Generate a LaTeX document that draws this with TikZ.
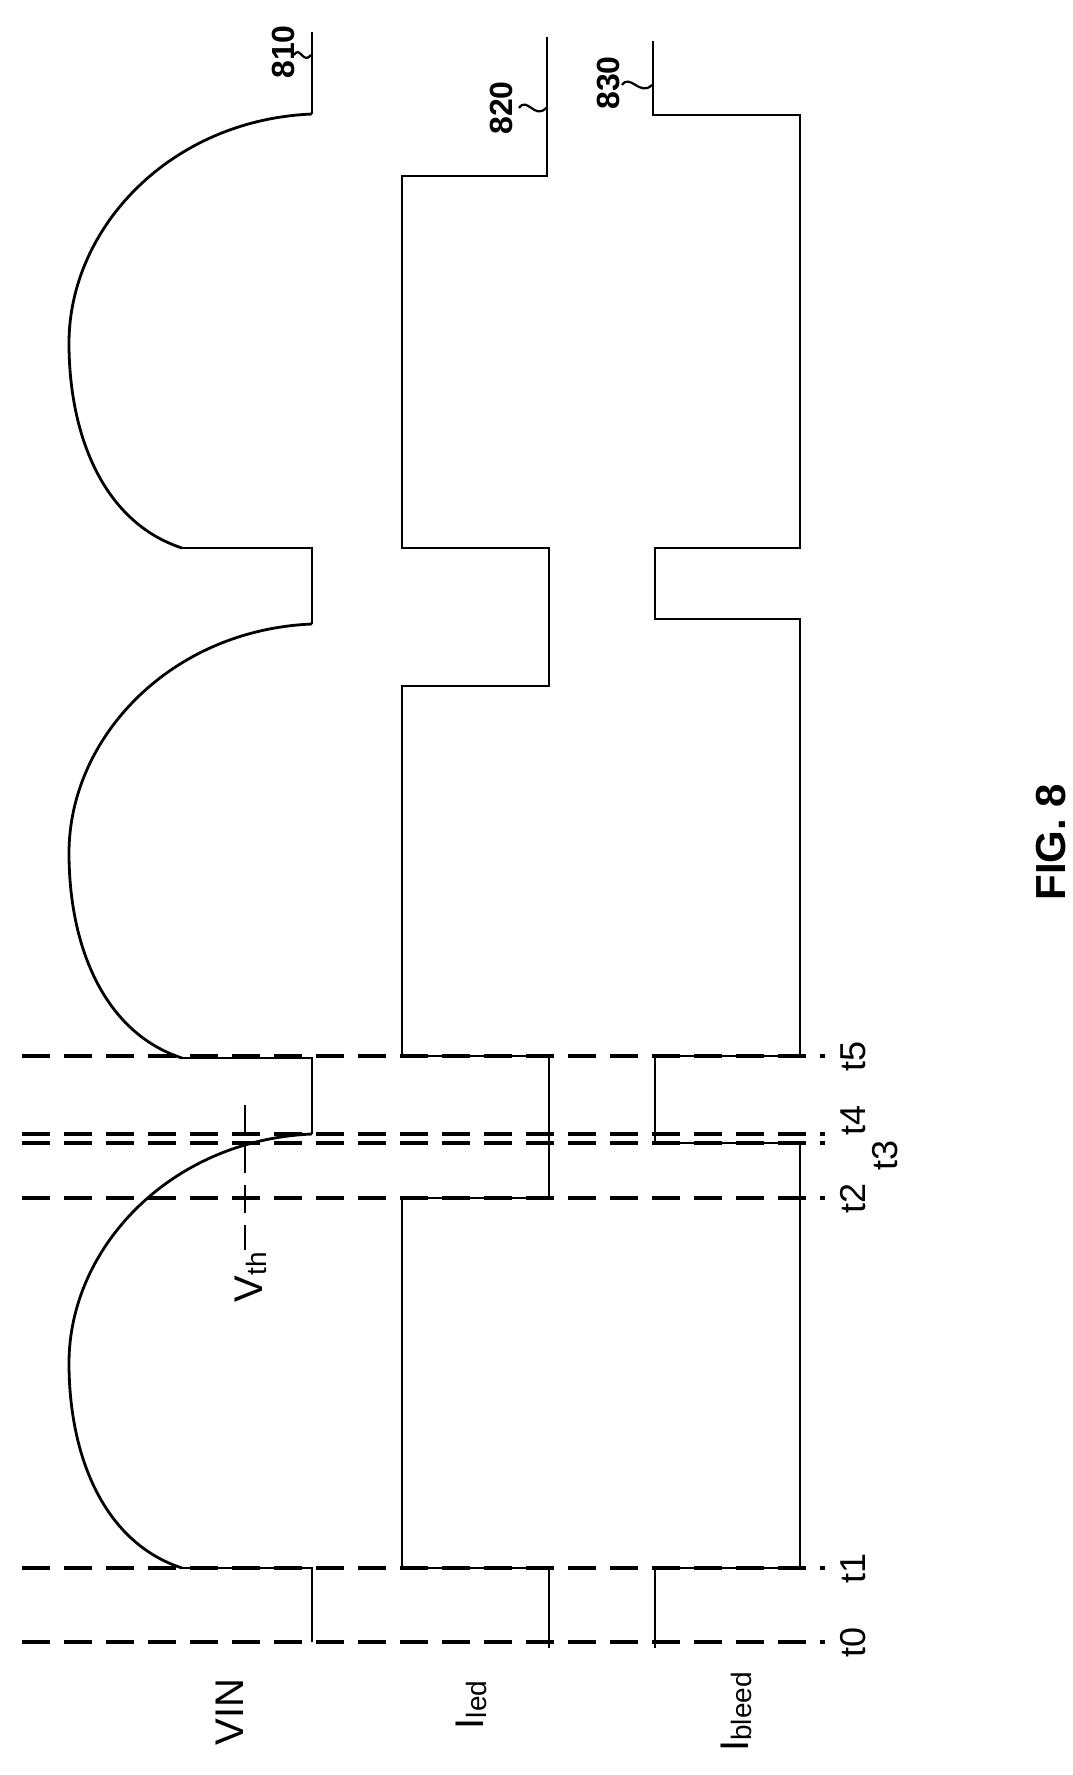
\documentclass[tikz,border=0pt]{standalone}
\usepackage{fontspec}
\setmainfont{Liberation Sans}
\begin{document}
\begin{tikzpicture}[x=1pt,y=-1pt,
  wave/.style={line width=2.8pt,line join=miter},
  tline/.style={line width=4pt,dash pattern=on 28pt off 14pt},
  lbl/.style={rotate=90,font=\fontsize{40}{40}\selectfont,inner sep=0pt},
  tlbl/.style={rotate=90,font=\fontsize{36}{36}\selectfont,inner sep=0pt},
  ref/.style={rotate=90,font=\bfseries\fontsize{32}{32}\selectfont,inner sep=0pt}]
\useasboundingbox (0,0) rectangle (1073,1775);
% time lines
\foreach \y in {1642,1568,1198,1143,1134,1056}{
  \draw[tline] (22,\y) -- (825,\y);
}
\node[tlbl] (t0) at (853,1642) {t0};
\node[tlbl] (t1) at (853,1568) {t1};
\node[tlbl] (t2) at (853,1198) {t2};
\node[tlbl] (t4) at (853,1120) {t4};
\node[tlbl] (t3) at (885,1155) {t3};
\node[tlbl] (t5) at (853,1056) {t5};
% VIN
\newcommand\myhump[1]{%
  \draw[wave] (182,#1) .. controls (105,#1-25) and (69,#1-110) .. (69,#1-205)
     .. controls (69,#1-320) and (170,#1-428) .. (312,#1-434);}
\myhump{1568}\myhump{1058}\myhump{548}
\draw[wave] (312,1642) -- (312,1568) -- (182,1568);
\draw[wave] (312,1134) -- (312,1058) -- (182,1058);
\draw[wave] (312,624) -- (312,548) -- (182,548);
\draw[wave] (312,114) -- (312,32);
% Iled
\draw[wave] (549,1648) -- (549,1568) -- (402,1568) -- (402,1198) -- (549,1198) -- (549,1056) -- (402,1056) -- (402,686) -- (549,686) -- (549,548) -- (402,548) -- (402,176) -- (547,176) -- (547,37);
% Ibleed
\draw[wave] (655,1648) -- (655,1568) -- (800,1568) -- (800,1143) -- (655,1143) -- (655,1056) -- (800,1056) -- (800,619) -- (655,619) -- (655,548) -- (800,548) -- (800,115) -- (653,115) -- (653,41);
% Vth
\draw[line width=2.2pt,dash pattern=on 28pt off 12pt] (245,1105) -- (245,1250);
\node[lbl,anchor=east] (vth) at (251,1252) {V{\fontsize{28}{28}\selectfont\raisebox{-0.15em}{th}}};
% labels
\node[lbl] (vin) at (230,1712) {VIN};
\node[lbl] (iled) at (471,1705) {I{\fontsize{28}{28}\selectfont\raisebox{-0.1em}{led}}};
\node[lbl] (ibleed) at (736,1712) {I{\fontsize{28}{28}\selectfont\raisebox{-0.1em}{bleed}}};
\node[ref] (r810) at (283,52) {810};
\node[ref] (r820) at (501,108) {820};
\node[ref] (r830) at (608,83) {830};
\draw[line width=2.2pt] (294,55) .. controls (300,45) and (303,65) .. (311,55);
\draw[line width=2.2pt] (519,108) .. controls (527,96) and (535,120) .. (546,108);
\draw[line width=2.2pt] (622,85) .. controls (630,73) and (640,97) .. (652,85);
\node[rotate=90,font=\bfseries\fontsize{42}{42}\selectfont] (fig) at (1051,842) {FIG. 8};
\end{tikzpicture}
\end{document}
